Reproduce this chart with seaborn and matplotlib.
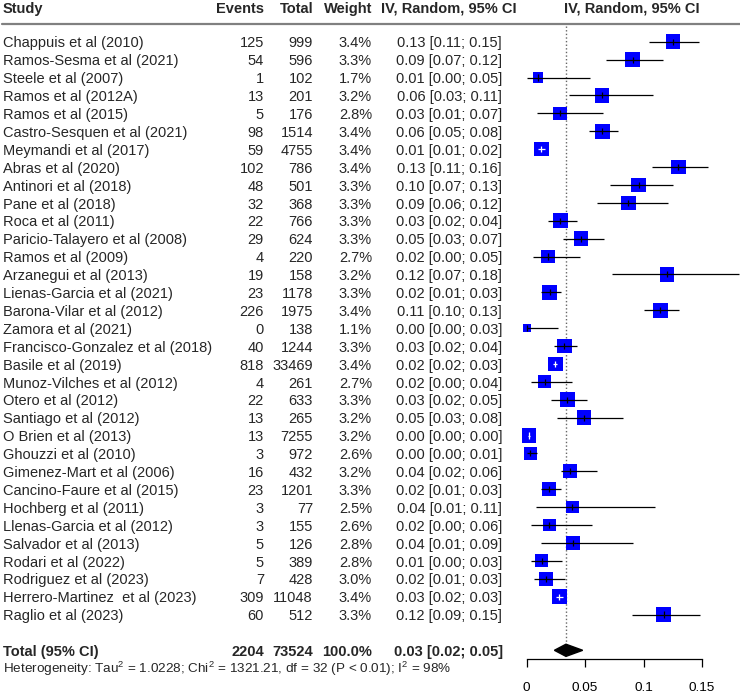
import numpy as np
import pandas as pd
import matplotlib
matplotlib.use("Agg")
import matplotlib.pyplot as plt
import matplotlib.transforms as mtransforms
import seaborn as sns

# data
studies = [
    "Chappuis et al (2010)", "Ramos-Sesma et al (2021)", "Steele et al (2007)",
    "Ramos et al (2012A)", "Ramos et al (2015)", "Castro-Sesquen et al (2021)",
    "Meymandi et al (2017)", "Abras et al (2020)", "Antinori et al (2018)",
    "Pane et al (2018)", "Roca et al (2011)", "Paricio-Talayero et al (2008)",
    "Ramos et al (2009)", "Arzanegui et al (2013)", "Lienas-Garcia et al (2021)",
    "Barona-Vilar et al (2012)", "Zamora et al (2021)", "Francisco-Gonzalez et al (2018)",
    "Basile et al (2019)", "Munoz-Vilches et al (2012)", "Otero et al (2012)",
    "Santiago et al (2012)", "O Brien et al (2013)", "Ghouzzi et al (2010)",
    "Gimenez-Mart et al (2006)", "Cancino-Faure et al (2015)", "Hochberg et al (2011)",
    "Llenas-Garcia et al (2012)", "Salvador et al (2013)", "Rodari et al (2022)",
    "Rodriguez et al (2023)", "Herrero-Martinez  et al (2023)", "Raglio et al (2023)",
]
events = [125, 54, 1, 13, 5, 98, 59, 102, 48, 32, 22, 29, 4, 19, 23, 226, 0, 40,
          818, 4, 22, 13, 13, 3, 16, 23, 3, 3, 5, 5, 7, 309, 60]
totals = [999, 596, 102, 201, 176, 1514, 4755, 786, 501, 368, 766, 624, 220, 158,
          1178, 1975, 138, 1244, 33469, 261, 633, 265, 7255, 972, 432, 1201, 77,
          155, 126, 389, 428, 11048, 512]
weights = [3.4, 3.3, 1.7, 3.2, 2.8, 3.4, 3.4, 3.4, 3.3, 3.3, 3.3, 3.3, 2.7, 3.2,
           3.3, 3.4, 1.1, 3.3, 3.4, 2.7, 3.3, 3.2, 3.2, 2.6, 3.2, 3.3, 2.5, 2.6,
           2.8, 2.8, 3.0, 3.4, 3.3]
ci_lo = [0.105, 0.068, 0.000, 0.036, 0.009, 0.053, 0.0095, 0.107, 0.071, 0.060,
         0.018, 0.031, 0.005, 0.073, 0.0125, 0.100, 0.000, 0.023, 0.0228, 0.004,
         0.021, 0.026, 0.00095, 0.0006, 0.029, 0.012, 0.008, 0.004, 0.012, 0.004,
         0.006, 0.025, 0.090]
ci_hi = [0.147, 0.117, 0.054, 0.108, 0.065, 0.078, 0.016, 0.155, 0.125, 0.121,
         0.043, 0.066, 0.046, 0.182, 0.029, 0.130, 0.0265, 0.043, 0.0261, 0.0385,
         0.052, 0.082, 0.0031, 0.009, 0.060, 0.029, 0.110, 0.056, 0.091, 0.030,
         0.033, 0.031, 0.148]
ci_text = [
    "0.13 [0.11; 0.15]", "0.09 [0.07; 0.12]", "0.01 [0.00; 0.05]", "0.06 [0.03; 0.11]",
    "0.03 [0.01; 0.07]", "0.06 [0.05; 0.08]", "0.01 [0.01; 0.02]", "0.13 [0.11; 0.16]",
    "0.10 [0.07; 0.13]", "0.09 [0.06; 0.12]", "0.03 [0.02; 0.04]", "0.05 [0.03; 0.07]",
    "0.02 [0.00; 0.05]", "0.12 [0.07; 0.18]", "0.02 [0.01; 0.03]", "0.11 [0.10; 0.13]",
    "0.00 [0.00; 0.03]", "0.03 [0.02; 0.04]", "0.02 [0.02; 0.03]", "0.02 [0.00; 0.04]",
    "0.03 [0.02; 0.05]", "0.05 [0.03; 0.08]", "0.00 [0.00; 0.00]", "0.00 [0.00; 0.01]",
    "0.04 [0.02; 0.06]", "0.02 [0.01; 0.03]", "0.04 [0.01; 0.11]", "0.02 [0.00; 0.06]",
    "0.04 [0.01; 0.09]", "0.01 [0.00; 0.03]", "0.02 [0.01; 0.03]", "0.03 [0.02; 0.03]",
    "0.12 [0.09; 0.15]",
]
pooled_est, pooled_lo, pooled_hi = 0.0336, 0.0237, 0.0479
pooled_text = "0.03 [0.02; 0.05]"
total_events, total_n = 2204, 73524
het_text = ("Heterogeneity: Tau$^2$ = 1.0228; Chi$^2$ = 1321.21, df = 32 "
            "(P < 0.01); I$^2$ = 98%")
xticks = [0, 0.05, 0.1, 0.15]
xtick_labels = ["0", "0.05", "0.1", "0.15"]

sns.set_style("white")
plt.rcParams["font.family"] = ["Liberation Sans", "DejaVu Sans"]
plt.rcParams["mathtext.default"] = "regular"

W, H = 740, 694
fig = plt.figure(figsize=(W / 100, H / 100), dpi=100)
ax = fig.add_axes([0, 0, 1, 1])

# pixel layout: x=0 at 526.7px, 1169 px per unit; row r at 41.7 + 17.9*r px
x0_px, ppu = 526.7, 1169.0
row0_px, row_h = 41.7, 17.9
ax.set_xlim(-x0_px / ppu, (W - x0_px) / ppu)
ax.set_ylim((H - row0_px) / row_h, -row0_px / row_h)

n = len(studies)
rows = np.arange(n)
est = np.array(events) / np.array(totals)
lo = np.array(ci_lo)
hi = np.array(ci_hi)
side_px = 14.7 * np.sqrt(np.array(weights) / max(weights))
df = pd.DataFrame({"est": est, "row": rows, "area": (side_px * 0.72) ** 2})

# CI inside the box -> white line
half = side_px / 2 / ppu
inside = ((est - lo) < half) & ((hi - est) < half)
line_cols = ["white" if f else "black" for f in inside]

# reference line
ax.vlines(pooled_est, -0.88, 33.7, colors="#666666", lw=1.0,
          linestyles=(0, (1, 1.6)), zorder=1)

sns.scatterplot(data=df, x="est", y="row", marker="s", s=df["area"].to_numpy(),
                color="#0000ff", edgecolor="none", linewidth=0, legend=False,
                ax=ax, zorder=3)
ax.hlines(rows, lo, hi, colors=line_cols, lw=0.9, zorder=4)
ax.vlines(est, rows - 0.17, rows + 0.17, colors=line_cols, lw=0.9, zorder=4)

# pooled diamond
tot_row = n + 1
ax.fill([pooled_lo, pooled_est, pooled_hi, pooled_est],
        [tot_row, tot_row - 0.34, tot_row, tot_row + 0.34],
        color="black", zorder=4)

# header rule
ax.axhline(-1.0, xmin=2 / W, xmax=1, color="#808080", lw=1.6)

# x axis
for s in ["top", "left", "right"]:
    ax.spines[s].set_visible(False)
ax.spines["bottom"].set_position(("data", (659 - row0_px) / row_h))
ax.spines["bottom"].set_bounds(0, 0.15)
ax.spines["bottom"].set_color("black")
ax.spines["bottom"].set_linewidth(0.9)
ax.set_xticks(xticks)
ax.set_xticklabels(xtick_labels, fontsize=9.7)
ax.set_yticks([])
ax.tick_params(axis="x", direction="out", length=5.8, width=0.9, pad=11,
               bottom=True, colors="black")
ax.set_xlabel("")
ax.set_ylabel("")
ax.grid(False)

# text columns
tr = mtransforms.blended_transform_factory(fig.transFigure, ax.transData)
fs = 10.5
col_study, col_ev, col_tot, col_w, col_ci, col_plot = 3 / W, 264 / W, 313 / W, 372 / W, 449 / W, 632 / W
base = 0.32

hy = -1.62
ax.text(col_study, hy, "Study", transform=tr, ha="left", va="baseline", fontsize=fs, fontweight="bold")
ax.text(col_ev, hy, "Events", transform=tr, ha="right", va="baseline", fontsize=fs, fontweight="bold")
ax.text(col_tot, hy, "Total", transform=tr, ha="right", va="baseline", fontsize=fs, fontweight="bold")
ax.text(col_w, hy, "Weight", transform=tr, ha="right", va="baseline", fontsize=fs, fontweight="bold")
ax.text(col_ci, hy, "IV, Random, 95% CI", transform=tr, ha="center", va="baseline", fontsize=fs, fontweight="bold")
ax.text(col_plot, hy, "IV, Random, 95% CI", transform=tr, ha="center", va="baseline", fontsize=fs, fontweight="bold")

for i in range(n):
    y = i + base
    ax.text(col_study, y, studies[i], transform=tr, ha="left", va="baseline", fontsize=fs)
    ax.text(col_ev, y, str(events[i]), transform=tr, ha="right", va="baseline", fontsize=fs)
    ax.text(col_tot, y, str(totals[i]), transform=tr, ha="right", va="baseline", fontsize=fs)
    ax.text(col_w, y, f"{weights[i]:.1f}%", transform=tr, ha="right", va="baseline", fontsize=fs)
    ax.text(col_ci, y, ci_text[i], transform=tr, ha="center", va="baseline", fontsize=fs)

y = tot_row + base
ax.text(col_study, y, "Total (95% CI)", transform=tr, ha="left", va="baseline", fontsize=fs, fontweight="bold")
ax.text(col_ev, y, str(total_events), transform=tr, ha="right", va="baseline", fontsize=fs, fontweight="bold")
ax.text(col_tot, y, str(total_n), transform=tr, ha="right", va="baseline", fontsize=fs, fontweight="bold")
ax.text(col_w, y, "100.0%", transform=tr, ha="right", va="baseline", fontsize=fs, fontweight="bold")
ax.text(col_ci, y, pooled_text, transform=tr, ha="center", va="baseline", fontsize=fs, fontweight="bold")
ax.text(col_study, tot_row + 1 + 0.285, het_text, transform=tr, ha="left", va="baseline", fontsize=9.7)

fig.savefig("out.png", dpi=100)
plt.close(fig)
